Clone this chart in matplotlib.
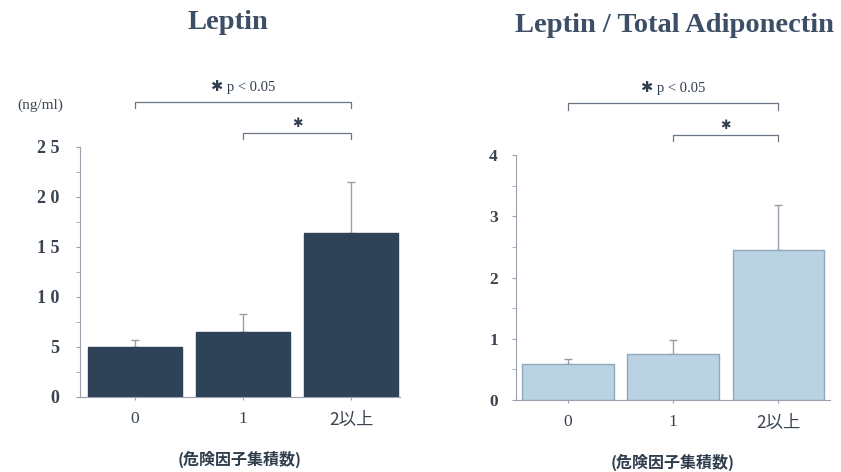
import matplotlib
matplotlib.use("Agg")
import matplotlib.pyplot as plt
from matplotlib.ticker import MultipleLocator

# 危険因子集積数ごとの平均値と標準誤差(上側のみ)
groups = ["0", "1", "2以上"]
leptin_mean = [5.03, 6.53, 16.4]
leptin_err = [0.64, 1.77, 5.1]
ratio_mean = [0.59, 0.75, 2.45]
ratio_err = [0.08, 0.23, 0.73]
yticks_left = [0, 5, 10, 15, 20, 25]
yticks_right = [0, 1, 2, 3, 4]

navy = "#2e4258"
light = "#b9d3e2"
text_c = "#3d4f66"
serif = ["Liberation Serif", "DejaVu Serif"]
jp = ["Noto Sans CJK JP", "DejaVu Sans"]
star_font = ["Liberation Serif", "DejaVu Sans"]

fig = plt.figure(figsize=(8.41, 4.72), dpi=100)
ax1 = fig.add_axes([0.0951, 0.159, 0.3805, 0.5297])
ax2 = fig.add_axes([0.6136, 0.1525, 0.3734, 0.519])


def draw_panel(ax, means, errs, color, edge, ymax, ticks, minor, labels):
    x = range(len(groups))
    ax.bar(x, means, width=0.87, color=color, edgecolor=edge, linewidth=1.0, zorder=2)
    ax.errorbar(x, means, yerr=[[0] * len(errs), errs], fmt="none",
                ecolor="#959fab", elinewidth=1.0, capsize=3, capthick=1.0, zorder=1)
    ax.set_ylim(0, ymax)
    ax.set_xlim(-0.51, 2.45)
    ax.set_yticks(ticks)
    ax.set_yticklabels(labels)
    ax.yaxis.set_minor_locator(MultipleLocator(minor))
    ax.set_xticks(list(x))
    ax.set_xticklabels(groups)
    for s in ["top", "right"]:
        ax.spines[s].set_visible(False)
    for s in ["left", "bottom"]:
        ax.spines[s].set_color("#9aa3ad")
        ax.spines[s].set_linewidth(0.8)
    ax.tick_params(axis="y", which="both", direction="out", length=3, color="#9aa3ad",
                   labelsize=13, labelcolor="#3a4450", pad=12)
    ax.tick_params(axis="x", length=2, color="#9aa3ad", labelsize=12.5,
                   labelcolor="#3a4450", pad=8)
    for t in ax.get_yticklabels():
        t.set_family(serif)
        t.set_fontweight("bold")
    for t in ax.get_xticklabels():
        t.set_family(serif)
    ax.get_xticklabels()[2].set_family(jp)
    ax.set_xlabel("(危険因子集積数)", family=jp, fontweight="bold",
                  fontsize=11.5, color="#2f3d4d", labelpad=16)


def bracket(ax, x0, x1, y, drop, label, ty, size):
    ax.plot([x0, x0, x1, x1], [y - drop, y, y, y - drop], color="#6b7785",
            linewidth=0.9, clip_on=False)
    ax.text((x0 + x1) / 2, ty, label, ha="center", va="center",
            fontsize=size, color="#2f3d4d", family=star_font, clip_on=False)


draw_panel(ax1, leptin_mean, leptin_err, navy, navy, 25, yticks_left, 2.5,
           ["0", "5", "1 0", "1 5", "2 0", "2 5"])
draw_panel(ax2, ratio_mean, ratio_err, light, "#8fa9bb", 4, yticks_right, 0.5,
           [str(v) for v in yticks_right])
ax2.set_xlim(-0.49, 2.49)
ax2.tick_params(axis="y", labelsize=12.5, pad=10)

bracket(ax1, 0, 2, 29.5, 0.6, "✱ p < 0.05", 31.0, 10.5)
bracket(ax1, 1, 2, 26.4, 0.6, "✱", 27.3, 9)
bracket(ax2, 0, 2, 4.85, 0.12, "✱ p < 0.05", 5.09, 10.5)
bracket(ax2, 1, 2, 4.33, 0.1, "✱", 4.47, 9)

fig.text(0.048, 0.777, "(ng/ml)", ha="center", va="center", fontsize=11,
         color="#404a55", family=serif)

fig.text(0.271, 0.953, "Leptin", ha="center", va="center", fontsize=20.5,
         fontweight="bold", color=text_c, family=serif)
fig.text(0.802, 0.945, "Leptin / Total Adiponectin", ha="center", va="center",
         fontsize=20.5, fontweight="bold", color=text_c, family=serif)

fig.savefig("out.png", dpi=100)
